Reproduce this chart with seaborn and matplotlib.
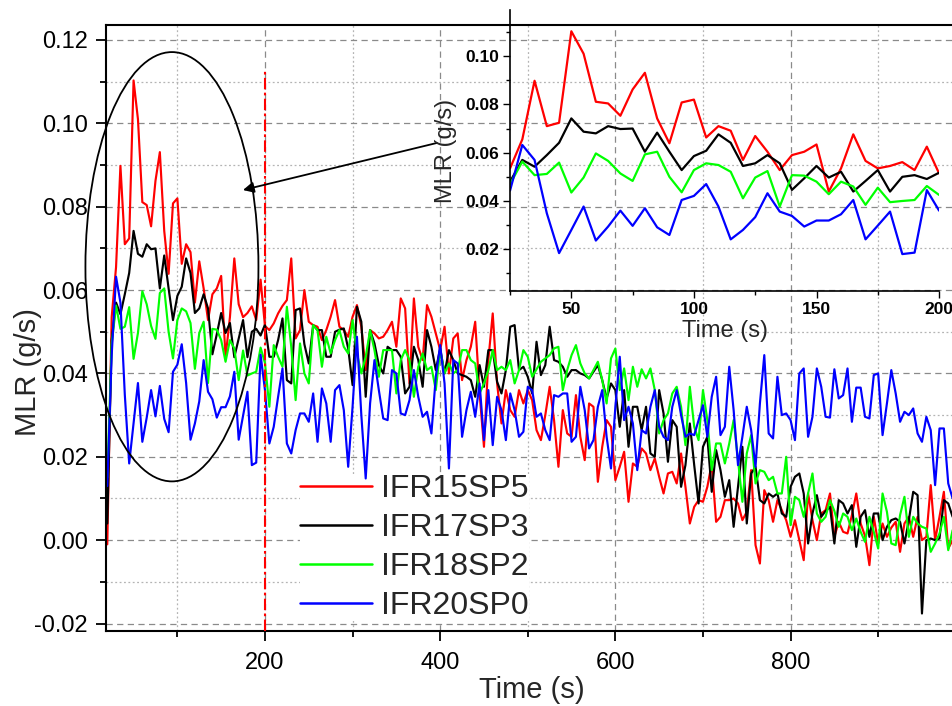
import numpy as np
import pandas as pd
import matplotlib
matplotlib.use("Agg")
import matplotlib.pyplot as plt
from matplotlib.patches import Ellipse
from matplotlib.ticker import MultipleLocator, FixedLocator, FormatStrFormatter
import seaborn as sns

# mass loss rate readings, one every 5 s starting at 20 s
t_start, t_step = 20, 5

ifr15sp5 = [
    -0.001, 0.0535, 0.0655, 0.0898, 0.071, 0.0724, 0.1103, 0.101, 0.0811, 0.0804,
    0.0753, 0.0862, 0.0931, 0.0742, 0.0639, 0.0808, 0.082, 0.0663, 0.071, 0.0691,
    0.057, 0.0669, 0.0604, 0.0528, 0.059, 0.0604, 0.0634, 0.0439, 0.0535, 0.0676,
    0.0566, 0.0535, 0.0545, 0.0561, 0.0528, 0.0625, 0.0514, 0.0504, 0.052, 0.0544,
    0.0562, 0.0576, 0.0676, 0.0484, 0.0504, 0.060, 0.0524, 0.0516, 0.0512, 0.048,
    0.0504, 0.0536, 0.0576, 0.0512, 0.0504, 0.0488, 0.0536, 0.0564, 0.0512, 0.0408,
    0.0504, 0.0496, 0.0484, 0.0488, 0.0504, 0.0524, 0.0464, 0.058, 0.0556, 0.0376,
    0.058, 0.0464, 0.0432, 0.0564, 0.0536, 0.0496, 0.0456, 0.0512, 0.040, 0.0484,
    0.0496, 0.0384, 0.0432, 0.0464, 0.0524, 0.0352, 0.0224, 0.0432, 0.0544, 0.0376,
    0.028, 0.036, 0.0312, 0.0296, 0.036, 0.0328, 0.036, 0.0336, 0.0264, 0.024,
    0.030, 0.0368, 0.0288, 0.0176, 0.0312, 0.0256, 0.0248, 0.0348, 0.0248, 0.0192,
    0.0328, 0.032, 0.014, 0.0224, 0.0288, 0.0272, 0.0144, 0.0176, 0.0212, 0.0092,
    0.0184, 0.0176, 0.022, 0.0208, 0.0168, 0.0196, 0.0152, 0.0112, 0.016, 0.0164,
    0.0136, 0.0208, 0.0128, 0.004, 0.008, 0.0096, 0.0092, 0.0128, 0.0184, 0.0044,
    0.0056, 0.0096, 0.0096, 0.010, 0.0088, 0.0048, 0.0068, 0.0168, -0.0012, -0.0056,
    0.012, 0.0096, 0.0044, 0.0096, 0.0072, 0.0048, 0.0008, 0.0048, 0.0, -0.0048,
    0.0112, 0.0048, 0.0, 0.0064, 0.0072, 0.0112, 0.0008, 0.0044, 0.002, 0.0016,
    0.006, 0.0112, 0.004, 0.001, -0.006, 0.0056, -0.0008, 0.004, 0.0008, 0.003,
    0.0044, -0.0028, 0.004, 0.0056, 0.0008, 0.0056, 0.0, 0.0008, 0.0132, 0.0,
    0.0056, 0.0116, -0.002, 0.0,
]

ifr17sp3 = [
    0.004, 0.048, 0.057, 0.0542, 0.059, 0.0641, 0.0742, 0.0687, 0.068, 0.071,
    0.0698, 0.070, 0.0604, 0.0683, 0.0604, 0.0528, 0.0586, 0.0608, 0.0676, 0.0641,
    0.0545, 0.0556, 0.059, 0.0556, 0.0446, 0.0494, 0.0545, 0.0497, 0.0521, 0.0439,
    0.0483, 0.0528, 0.0439, 0.050, 0.0507, 0.0491, 0.0517, 0.044, 0.044, 0.048,
    0.0532, 0.0384, 0.0376, 0.0552, 0.0556, 0.047, 0.0424, 0.0516, 0.0504, 0.0504,
    0.044, 0.044, 0.050, 0.0505, 0.0508, 0.046, 0.0372, 0.056, 0.0524, 0.0344,
    0.0504, 0.0472, 0.042, 0.040, 0.0464, 0.0456, 0.0456, 0.044, 0.0352, 0.0368,
    0.0464, 0.0432, 0.0368, 0.0504, 0.0464, 0.0408, 0.046, 0.040, 0.0456, 0.0432,
    0.040, 0.0396, 0.0392, 0.0384, 0.0344, 0.042, 0.0368, 0.0456, 0.0456, 0.038,
    0.0352, 0.0408, 0.0512, 0.0516, 0.0408, 0.0416, 0.0392, 0.0352, 0.0476, 0.0396,
    0.042, 0.0512, 0.0432, 0.0428, 0.0416, 0.0392, 0.0408, 0.0408, 0.040, 0.0396,
    0.0388, 0.0404, 0.042, 0.0384, 0.034, 0.0376, 0.036, 0.0272, 0.036, 0.0224,
    0.032, 0.032, 0.0264, 0.032, 0.0208, 0.020, 0.036, 0.0304, 0.0188, 0.0288,
    0.0272, 0.0128, 0.018, 0.028, 0.018, 0.0088, 0.0224, 0.0248, 0.0116, 0.0216,
    0.0168, 0.0104, 0.0144, 0.0032, 0.0128, 0.0224, 0.004, 0.016, 0.0176, 0.0096,
    0.0088, 0.0112, 0.0104, 0.0112, 0.0064, 0.0056, 0.0128, 0.0152, 0.016, 0.0112,
    -0.0008, 0.0064, 0.0108, 0.0056, 0.007, 0.008, -0.0008, 0.0096, 0.0088, 0.0064,
    0.0084, -0.0016, 0.0056, 0.0072, 0.0008, 0.0064, 0.0064, 0.0, 0.0032, 0.0048,
    0.0052, 0.0044, -0.0008, 0.0048, 0.0116, 0.0108, -0.0176, 0.0, 0.0004, 0.0,
    0.0004, 0.0096, 0.0088, 0.0056,
]

ifr18sp2 = [
    0.015, 0.047, 0.0563, 0.0507, 0.0512, 0.0559, 0.0435, 0.0497, 0.0597, 0.0566,
    0.0514, 0.0483, 0.0593, 0.0604, 0.050, 0.0436, 0.0528, 0.0556, 0.0549, 0.0521,
    0.0411, 0.0497, 0.0524, 0.0377, 0.0507, 0.0505, 0.048, 0.0428, 0.048, 0.046,
    0.0384, 0.0455, 0.0395, 0.040, 0.0404, 0.0462, 0.0425, 0.032, 0.0468, 0.044,
    0.0416, 0.056, 0.0464, 0.0336, 0.0472, 0.040, 0.0376, 0.0516, 0.0504, 0.0416,
    0.0488, 0.0448, 0.048, 0.0504, 0.0464, 0.0448, 0.0528, 0.0448, 0.040, 0.044,
    0.0504, 0.0456, 0.0392, 0.0456, 0.0456, 0.0456, 0.0352, 0.0432, 0.0456, 0.0432,
    0.0344, 0.0416, 0.0448, 0.0408, 0.0416, 0.036, 0.0456, 0.040, 0.0424, 0.040,
    0.0408, 0.0456, 0.0456, 0.0432, 0.0424, 0.0352, 0.0376, 0.0408, 0.0456, 0.0408,
    0.0416, 0.0408, 0.0432, 0.0376, 0.0408, 0.0456, 0.044, 0.0392, 0.041, 0.0428,
    0.0436, 0.0444, 0.046, 0.0464, 0.036, 0.0408, 0.0444, 0.0468, 0.0424, 0.040,
    0.0388, 0.0408, 0.0428, 0.0384, 0.0328, 0.0436, 0.046, 0.036, 0.0412, 0.0336,
    0.0416, 0.0368, 0.041, 0.0388, 0.0412, 0.036, 0.0256, 0.0288, 0.0304, 0.0352,
    0.0368, 0.032, 0.0228, 0.0368, 0.0272, 0.024, 0.036, 0.0288, 0.0168, 0.0232,
    0.0232, 0.0184, 0.0232, 0.0288, 0.0192, 0.0092, 0.0208, 0.0252, 0.0136, 0.0168,
    0.0164, 0.0144, 0.0152, 0.0112, 0.0112, 0.020, 0.0036, 0.0104, 0.0096, 0.0056,
    0.0112, 0.016, 0.0064, 0.0044, 0.0056, 0.0096, 0.007, 0.0032, 0.0064, 0.0056,
    0.0024, 0.0052, 0.002, -0.0004, 0.0056, 0.002, -0.002, 0.0112, 0.0068, -0.0008,
    -0.0012, 0.006, 0.0104, 0.0008, 0.0056, 0.004, 0.0032, 0.0028, -0.0028, -0.0008,
    0.0016, 0.0056, -0.0024, 0.0024,
]

ifr20sp0 = [
    0.013, 0.0443, 0.0632, 0.057, 0.0349, 0.0184, 0.028, 0.0377, 0.0236, 0.0294,
    0.036, 0.0297, 0.037, 0.0291, 0.0259, 0.0404, 0.0421, 0.047, 0.0377, 0.0241,
    0.028, 0.0333, 0.0432, 0.0356, 0.0338, 0.0294, 0.0319, 0.0319, 0.0345, 0.0404,
    0.0241, 0.0298, 0.0356, 0.018, 0.0186, 0.0445, 0.036, 0.0232, 0.0272, 0.0344,
    0.0412, 0.0232, 0.0208, 0.0264, 0.0304, 0.0304, 0.0284, 0.0352, 0.0236, 0.0364,
    0.0328, 0.0236, 0.036, 0.0372, 0.0312, 0.0176, 0.032, 0.0488, 0.030, 0.0148,
    0.0328, 0.0432, 0.036, 0.0292, 0.0288, 0.0408, 0.040, 0.0304, 0.030, 0.0336,
    0.0408, 0.0344, 0.0296, 0.0308, 0.0256, 0.0392, 0.0468, 0.0376, 0.0172, 0.0432,
    0.0424, 0.0248, 0.0312, 0.0356, 0.0296, 0.0376, 0.024, 0.036, 0.0228, 0.0344,
    0.0312, 0.024, 0.0352, 0.0312, 0.0248, 0.026, 0.0368, 0.036, 0.0296, 0.0304,
    0.0264, 0.024, 0.0348, 0.0344, 0.0352, 0.0352, 0.0236, 0.0248, 0.0368, 0.0312,
    0.022, 0.024, 0.032, 0.036, 0.0248, 0.0172, 0.032, 0.044, 0.0288, 0.032,
    0.028, 0.0168, 0.0264, 0.0256, 0.032, 0.036, 0.0272, 0.0248, 0.024, 0.032,
    0.036, 0.030, 0.0248, 0.0256, 0.0252, 0.0288, 0.0324, 0.0248, 0.0344, 0.0392,
    0.0252, 0.0272, 0.0416, 0.0312, 0.018, 0.0248, 0.032, 0.0264, 0.0176, 0.0328,
    0.0444, 0.0256, 0.0244, 0.0392, 0.030, 0.0304, 0.0288, 0.024, 0.040, 0.0412,
    0.0248, 0.0296, 0.0412, 0.0368, 0.0296, 0.0294, 0.041, 0.034, 0.0348, 0.0412,
    0.0284, 0.0366, 0.0366, 0.0296, 0.0292, 0.0396, 0.040, 0.0252, 0.0328, 0.0408,
    0.0352, 0.0284, 0.0308, 0.030, 0.0316, 0.0256, 0.0236, 0.0296, 0.0264, 0.0132,
    0.0268, 0.0268, 0.0136, 0.010,
]

samples = ["IFR15SP5", "IFR17SP3", "IFR18SP2", "IFR20SP0"]
series = [ifr15sp5, ifr17sp3, ifr18sp2, ifr20sp0]
colors = ["#ff0000", "#000000", "#00ff00", "#0000ff"]
time_ticks = [200, 400, 600, 800]

# zoomed window shown in the inset
window = (25, 200)

frames = []
for name, vals in zip(samples, series):
    t = t_start + t_step * np.arange(len(vals))
    frames.append(pd.DataFrame({"Time": t, "MLR": vals, "Sample": name}))
df = pd.concat(frames, ignore_index=True)

sns.set_style("white")
plt.rcParams["font.family"] = ["Liberation Sans", "DejaVu Sans"]
plt.rcParams["axes.unicode_minus"] = False

fig = plt.figure(figsize=(9.53, 7.06), dpi=100)
ax = fig.add_axes([0.1112, 0.1062, 0.9022, 0.8584])

sns.lineplot(data=df, x="Time", y="MLR", hue="Sample", hue_order=samples,
             palette=colors, linewidth=1.55, errorbar=None, ax=ax)

ax.set_xlim(18.5, 1000)
ax.set_ylim(-0.0218, 0.1236)
ax.xaxis.set_major_locator(FixedLocator(time_ticks))
ax.xaxis.set_minor_locator(FixedLocator([100, 300, 500, 700, 900]))
ax.yaxis.set_major_locator(MultipleLocator(0.02))
ax.yaxis.set_minor_locator(MultipleLocator(0.01))
ax.yaxis.set_major_formatter(FormatStrFormatter("%.2f"))

ax.grid(which="major", color="#8a8a8a", linestyle=(0, (5, 3.5)), linewidth=0.9)
ax.grid(which="minor", color="#b4b4b4", linestyle=(0, (1.5, 2)), linewidth=0.9)
ax.set_axisbelow(True)

for side in ("left", "bottom", "top"):
    ax.spines[side].set_linewidth(1.5)
    ax.spines[side].set_color("black")
ax.spines["right"].set_visible(False)

ax.tick_params(which="both", direction="out", bottom=True, left=True,
               top=False, right=False, width=1.3, colors="black")
ax.tick_params(which="major", length=7, labelsize=17)
ax.tick_params(which="minor", length=4.5)
ax.tick_params(axis="x", which="major", pad=8)
ax.tick_params(axis="y", which="major", pad=6)

ax.set_xlabel("Time (s)", fontsize=21)
ax.set_ylabel("MLR (g/s)", fontsize=21)
ax.xaxis.set_label_coords(0.4955, -0.075)
ax.yaxis.set_label_coords(-0.074, 0.427)

# end of the zoomed window
ax.plot([window[1], window[1]], [ax.get_ylim()[0], 0.1125], color="#ff0000",
        linestyle=(0, (5.5, 1.6, 1.3, 1.6)), linewidth=1.5, zorder=3)

# highlight of the early burning stage and pointer to the inset
ax.add_patch(Ellipse((93.8, 0.0656), 197.5, 0.103, fill=False,
                     edgecolor="black", linewidth=1.3, clip_on=False, zorder=4))
ax.annotate("", xy=(174.9, 0.0840), xytext=(396.3, 0.0953),
            arrowprops=dict(arrowstyle="-|>", color="black", lw=1.3,
                            mutation_scale=16, shrinkA=0, shrinkB=0),
            zorder=5)

handles, labels = ax.get_legend_handles_labels()
leg = ax.legend(handles, labels, loc="upper left",
                bbox_to_anchor=(300 / 953, 1 - 474 / 706),
                bbox_transform=fig.transFigure, frameon=True, fontsize=23,
                handlelength=2.25, handletextpad=0.29, labelspacing=0.28,
                borderpad=0, borderaxespad=0, fancybox=False)
leg.get_frame().set_facecolor("white")
leg.get_frame().set_edgecolor("none")
leg.get_frame().set_alpha(1)
leg.set_zorder(1.5)
for line in leg.get_lines():
    line.set_linewidth(1.8)

# inset: first 200 s
ins = fig.add_axes([0.5352, 0.5878, 0.4502, 0.398])
ins.patch.set_alpha(0)
sub = df[(df["Time"] >= window[0]) & (df["Time"] <= window[1])]
sns.lineplot(data=sub, x="Time", y="MLR", hue="Sample", hue_order=samples,
             palette=colors, linewidth=1.6, errorbar=None, legend=False, ax=ins)
ins.set_xlim(*window)
ins.set_ylim(0.0027, 0.1191)
ins.xaxis.set_major_locator(MultipleLocator(50))
ins.xaxis.set_minor_locator(MultipleLocator(25))
ins.yaxis.set_major_locator(MultipleLocator(0.02))
ins.yaxis.set_minor_locator(MultipleLocator(0.01))
ins.yaxis.set_major_formatter(FormatStrFormatter("%.2f"))
ins.grid(False)
for side in ("left", "bottom"):
    ins.spines[side].set_linewidth(1.2)
    ins.spines[side].set_color("black")
ins.spines["top"].set_visible(False)
ins.spines["right"].set_visible(False)
ins.tick_params(which="both", direction="out", bottom=True, left=True,
                width=1.0, colors="black")
ins.tick_params(which="major", length=5, labelsize=12.5, pad=3)
ins.tick_params(which="minor", length=3)
for lab in ins.get_xticklabels() + ins.get_yticklabels():
    lab.set_fontweight("bold")
ins.set_xlabel("Time (s)", fontsize=17, labelpad=2)
ins.set_ylabel("MLR (g/s)", fontsize=17, labelpad=6)

fig.savefig("out.png", dpi=100)
